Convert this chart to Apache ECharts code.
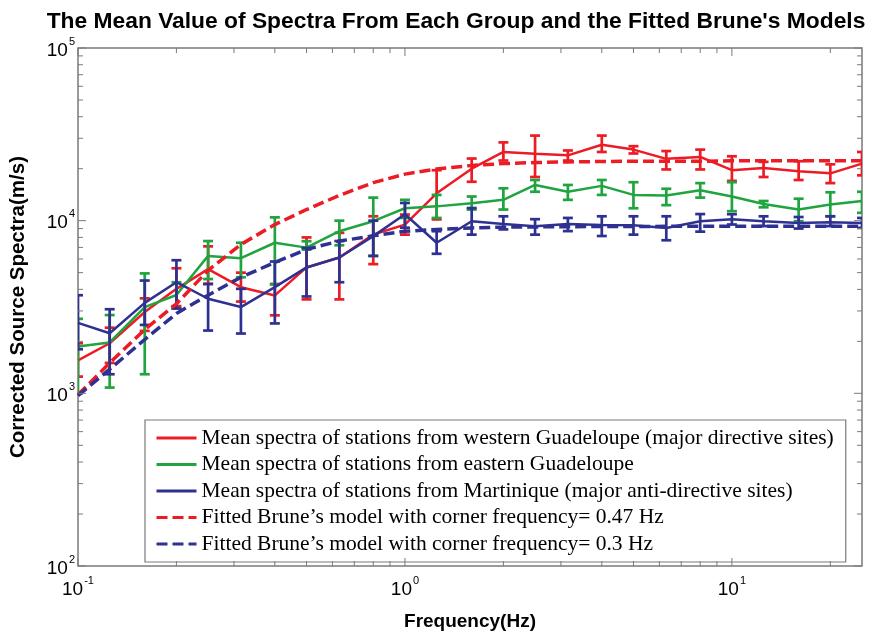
<!DOCTYPE html>
<html>
<head>
<meta charset="utf-8">
<script src="https://cdn.jsdelivr.net/npm/echarts@6/dist/echarts.min.js"></script>
<style>
  html, body { margin: 0; padding: 0; background: #ffffff; }
  #chart { width: 875px; height: 636px; }
</style>
</head>
<body>
<div id="chart"></div>
<script>
// Centre frequencies (Hz) of the spectral bins
const freqs = [0.1, 0.125, 0.16, 0.2, 0.25, 0.315, 0.4, 0.5, 0.63, 0.8, 1.0, 1.25, 1.6, 2.0, 2.5, 3.15, 4, 5, 6.3, 8, 10, 12.5, 16, 20, 25];

// Western Guadeloupe: mean and error-bar limits
const westMean = [1550, 1950, 2960, 4030, 5240, 4120, 3690, 5360, 6120, 8320, 9490, 14400, 20000, 25000, 24400, 23900, 27500, 25800, 22800, 23400, 19600, 20200, 19300, 18800, 21400];
const westLow  = [1250, 1500, 2300, 3200, 4300, 3400, 2830, 3500, 3500, 5600, 8300, 10170, 16800, 22300, 17900, 22300, 25000, 24500, 19800, 19800, 17000, 17900, 17200, 16500, 18300];
const westHigh = [1950, 2400, 3550, 5300, 7100, 5000, 4300, 8000, 8500, 10600, 10850, 19600, 22900, 28400, 31100, 25500, 31100, 27000, 25300, 25800, 23600, 21900, 22100, 21200, 25000];

// Eastern Guadeloupe
const eastMean = [1870, 1970, 3160, 3710, 6250, 6060, 7450, 6980, 8690, 9930, 11800, 12100, 12600, 13200, 16100, 14700, 15900, 14100, 14000, 15000, 13800, 12500, 11600, 12400, 13000];
const eastLow  = [1000, 1080, 1290, 3100, 4590, 4700, 4270, 6800, 7200, 6250, 10370, 10370, 11600, 11600, 14700, 13200, 14100, 11800, 12300, 13600, 11350, 11950, 9930, 10600, 11100];
const eastHigh = [2700, 2840, 4950, 4400, 7620, 7450, 10450, 7600, 10000, 13600, 13200, 14100, 13800, 15400, 17200, 16100, 17200, 16700, 15300, 16500, 16700, 13000, 13400, 14600, 14700];

// Martinique
const martMean = [2560, 2230, 3340, 4400, 3530, 3160, 4120, 5360, 6120, 8140, 10900, 7450, 9930, 9580, 9290, 9580, 9450, 9420, 9080, 9930, 10200, 9930, 9700, 9800, 9700];
const martLow  = [1800, 1290, 2490, 3100, 2310, 2220, 2540, 3640, 4400, 6250, 9100, 6430, 8300, 8900, 8300, 8700, 8150, 8300, 7700, 8640, 9500, 9300, 9000, 9300, 9080];
const martHigh = [3700, 3070, 4500, 5900, 4300, 4030, 5800, 6950, 7620, 10000, 12660, 8690, 11830, 10600, 10200, 10370, 10600, 10600, 10600, 10920, 10900, 10600, 10500, 10600, 10370];

// Fitted Brune's models
const brune047 = [980, 1500, 2340, 3300, 5150, 7290, 9490, 11600, 14000, 16600, 18600, 19900, 20900, 21400, 21700, 21900, 22000, 22100, 22100, 22100, 22200, 22200, 22200, 22200, 22200];
const brune03  = [970, 1380, 2050, 2900, 3700, 4700, 5730, 6820, 7620, 8170, 8690, 8880, 9080, 9170, 9200, 9230, 9250, 9260, 9270, 9270, 9280, 9280, 9280, 9280, 9280];

// Axis ranges and ticks
const xRange = [0.1, 25];
const yRange = [100, 100000];
const xMajorTicks = [0.1, 1, 10];
const xMinorTicks = [0.2, 0.3, 0.4, 0.5, 0.6, 0.7, 0.8, 0.9, 2, 3, 4, 5, 6, 7, 8, 9, 20];
const yMajorTicks = [100, 1000, 10000, 100000];
const yMinorTicks = [200, 300, 400, 500, 600, 700, 800, 900, 2000, 3000, 4000, 5000, 6000, 7000, 8000, 9000, 20000, 30000, 40000, 50000, 60000, 70000, 80000, 90000];

const names = [
  'Mean spectra of stations from western Guadeloupe (major directive sites)',
  'Mean spectra of stations from eastern Guadeloupe',
  'Mean spectra of stations from Martinique (major anti-directive sites)',
  'Fitted Brune\u2019s model with corner frequency= 0.47 Hz',
  'Fitted Brune\u2019s model with corner frequency= 0.3 Hz'
];

const RED = '#ec1c24';
const GREEN = '#1fa43f';
const BLUE = '#2e3192';
const FRAME = '#7a7a7a';
const SANS = 'Liberation Sans, Arial, sans-serif';

const pairs = (ys) => freqs.map((f, i) => [f, ys[i]]);

function lineSeries(name, ys, color, dashed, z) {
  return {
    type: 'line', name: name, data: pairs(ys),
    symbol: 'none', smooth: false, z: z,
    lineStyle: { color: color, width: dashed ? 3.5 : 2.5, type: dashed ? [11, 5] : 'solid' },
    itemStyle: { color: color },
    emphasis: { disabled: true }
  };
}

function errorSeries(low, high, color, z) {
  return {
    type: 'custom', z: z, clip: true, silent: true,
    data: freqs.map((f, i) => [f, low[i], high[i]]),
    encode: { x: 0, y: [1, 2] },
    renderItem: function (params, api) {
      const top = api.coord([api.value(0), api.value(2)]);
      const bot = api.coord([api.value(0), api.value(1)]);
      const hw = 5;
      const st = { stroke: color, lineWidth: 2.7 };
      return {
        type: 'group',
        children: [
          { type: 'line', shape: { x1: top[0], y1: top[1], x2: bot[0], y2: bot[1] }, style: st },
          { type: 'line', shape: { x1: top[0] - hw, y1: top[1], x2: top[0] + hw, y2: top[1] }, style: st },
          { type: 'line', shape: { x1: bot[0] - hw, y1: bot[1], x2: bot[0] + hw, y2: bot[1] }, style: st }
        ]
      };
    }
  };
}

// Inward-pointing ticks on all four sides of the box
const tickData = []
  .concat(xMajorTicks.map(v => [v, 0, 1]))
  .concat(xMinorTicks.map(v => [v, 0, 0]))
  .concat(yMajorTicks.map(v => [v, 1, 1]))
  .concat(yMinorTicks.map(v => [v, 1, 0]));

const tickSeries = {
  type: 'custom', z: 20, silent: true, clip: false,
  data: tickData,
  renderItem: function (params, api) {
    const v = api.value(0), isY = api.value(1) === 1, major = api.value(2) === 1;
    const len = major ? 8 : 5;
    const st = { stroke: FRAME, lineWidth: 1 };
    let a, b;
    if (!isY) {
      a = api.coord([v, yRange[0]]);
      b = api.coord([v, yRange[1]]);
      return { type: 'group', children: [
        { type: 'line', shape: { x1: a[0], y1: a[1], x2: a[0], y2: a[1] - len }, style: st },
        { type: 'line', shape: { x1: b[0], y1: b[1], x2: b[0], y2: b[1] + len }, style: st }
      ] };
    }
    a = api.coord([xRange[0], v]);
    b = api.coord([xRange[1], v]);
    return { type: 'group', children: [
      { type: 'line', shape: { x1: a[0], y1: a[1], x2: a[0] + len, y2: a[1] }, style: st },
      { type: 'line', shape: { x1: b[0], y1: b[1], x2: b[0] - len, y2: b[1] }, style: st }
    ] };
  }
};

function powerLabel(value) {
  const lg = Math.log10(value);
  const e = Math.round(lg);
  if (Math.abs(lg - e) > 1e-6) return '';
  return '{b|10}{s|' + e + '}';
}

const labelRich = {
  b: { fontFamily: SANS, fontSize: 19, color: '#000', lineHeight: 24, verticalAlign: 'bottom' },
  s: { fontFamily: SANS, fontSize: 11, color: '#000', lineHeight: 24, verticalAlign: 'top', padding: [0, 0, 0, 1] }
};

const chart = echarts.init(document.getElementById('chart'), null, { renderer: 'canvas' });
chart.setOption({
  animation: false,
  backgroundColor: '#ffffff',
  title: {
    text: 'The Mean Value of Spectra From Each Group and the Fitted Brune\'s Models',
    left: 451, top: 5, textAlign: 'center',
    textStyle: { fontFamily: SANS, fontWeight: 'bold', fontSize: 22.8, color: '#000' }
  },
  grid: { left: 76, right: 13, top: 48, bottom: 64, show: true, borderColor: FRAME, borderWidth: 1.5, backgroundColor: '#ffffff' },
  legend: {
    left: 145, top: 420, orient: 'vertical',
    data: names,
    itemWidth: 40, itemHeight: 14, itemGap: 4.5,
    padding: [7, 12, 7, 10],
    backgroundColor: '#ffffff', borderColor: FRAME, borderWidth: 1.2,
    selectedMode: false,
    itemStyle: { opacity: 0 },
    lineStyle: { width: 3 },
    textStyle: { fontFamily: 'Liberation Serif, Times New Roman, serif', fontSize: 21.5, color: '#000' }
  },
  xAxis: {
    type: 'log', logBase: 10, min: xRange[0], max: xRange[1],
    name: 'Frequency(Hz)', nameLocation: 'middle', nameGap: 46,
    nameTextStyle: { fontFamily: SANS, fontWeight: 'bold', fontSize: 19, color: '#000' },
    axisLine: { show: false }, axisTick: { show: false }, splitLine: { show: false },
    axisLabel: { formatter: powerLabel, rich: labelRich, margin: 9, showMaxLabel: false, hideOverlap: false }
  },
  yAxis: {
    type: 'log', logBase: 10, min: yRange[0], max: yRange[1],
    name: 'Corrected Source Spectra(m/s)', nameLocation: 'middle', nameGap: 49, nameRotate: 90,
    nameTextStyle: { fontFamily: SANS, fontWeight: 'bold', fontSize: 20.5, color: '#000' },
    axisLine: { show: false }, axisTick: { show: false }, splitLine: { show: false },
    axisLabel: { formatter: powerLabel, rich: labelRich, margin: 3 }
  },
  series: [
    errorSeries(westLow, westHigh, RED, 3),
    lineSeries(names[0], westMean, RED, false, 3),
    errorSeries(eastLow, eastHigh, GREEN, 4),
    lineSeries(names[1], eastMean, GREEN, false, 4),
    errorSeries(martLow, martHigh, BLUE, 5),
    lineSeries(names[2], martMean, BLUE, false, 5),
    lineSeries(names[3], brune047, RED, true, 6),
    lineSeries(names[4], brune03, BLUE, true, 7),
    tickSeries
  ]
});
</script>
</body>
</html>
